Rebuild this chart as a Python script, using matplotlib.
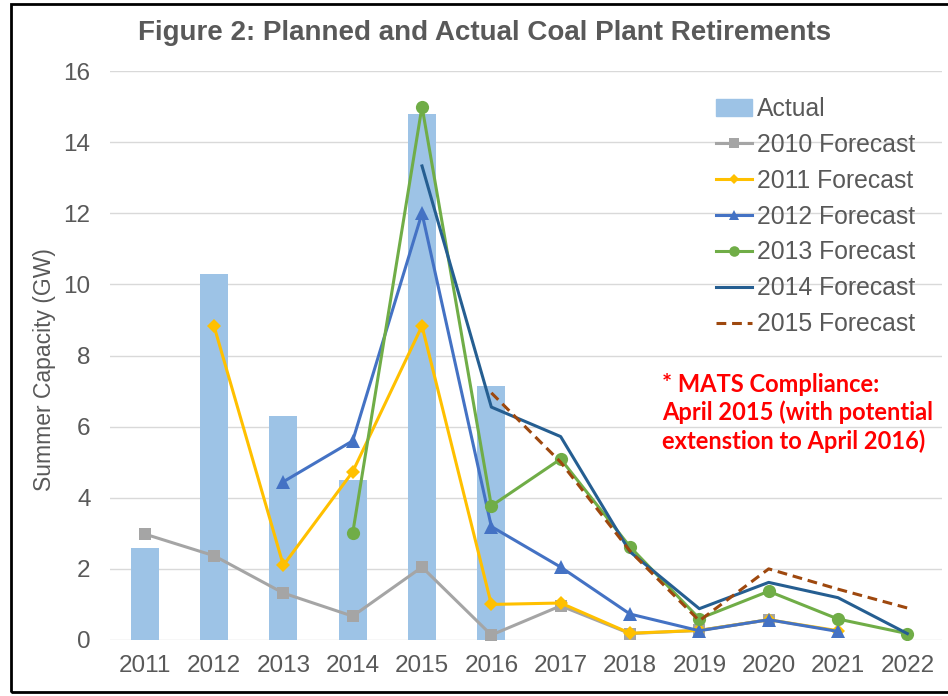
import numpy as np
import matplotlib
matplotlib.use("Agg")
import matplotlib.pyplot as plt
from matplotlib.patches import Patch, Rectangle
from matplotlib.lines import Line2D

plt.rcParams["font.family"] = ["Liberation Sans", "DejaVu Sans"]

years = ["2011", "2012", "2013", "2014", "2015", "2016",
         "2017", "2018", "2019", "2020", "2021", "2022"]
nan = np.nan

actual = [2.6, 10.3, 6.3, 4.5, 14.8, 7.15, nan, nan, nan, nan, nan, nan]
fc_2010 = [2.98, 2.37, 1.32, 0.67, 2.05, 0.14, 0.96, 0.18, 0.27, 0.57, nan, nan]
fc_2011 = [nan, 8.83, 2.1, 4.73, 8.83, 1.0, 1.04, 0.19, 0.27, 0.57, 0.26, nan]
fc_2012 = [nan, nan, 4.45, 5.6, 12.0, 3.19, 2.05, 0.73, 0.26, 0.57, 0.24, nan]
fc_2013 = [nan, nan, nan, 3.0, 15.0, 3.77, 5.09, 2.62, 0.6, 1.37, 0.59, 0.18]
fc_2014 = [nan, nan, nan, nan, 13.33, 6.55, 5.72, 2.48, 0.88, 1.62, 1.19, 0.18]
fc_2015 = [nan, nan, nan, nan, nan, 6.95, 5.0, 2.5, 0.54, 2.0, 1.43, 0.9]

text_col = "#595959"
x = np.arange(len(years))

fig = plt.figure(figsize=(9.48, 6.96), dpi=100)
ax = fig.add_axes([110 / 948, 56 / 696, 832 / 948, 569 / 696])

ax.bar(x, actual, width=0.4, color="#9DC3E6", zorder=2)

# forecast series: (values, colour, marker, marker size, style)
series = [
    (fc_2010, "#A5A5A5", "s", 8.5, "-"),
    (fc_2011, "#FFC000", "D", 7, "-"),
    (fc_2012, "#4472C4", "^", 9.5, "-"),
    (fc_2013, "#70AD47", "o", 9.5, "-"),
    (fc_2014, "#255E91", None, 0, "-"),
    (fc_2015, "#9E480E", None, 0, (0, (3.2, 1.9))),
]
for vals, col, mk, ms, ls in series:
    ax.plot(x, vals, color=col, lw=2.2, ls=ls, marker=mk, ms=ms,
            markeredgewidth=0, zorder=3)

ax.set_xlim(-0.5, len(years) - 0.5)
ax.set_ylim(0, 16)
ax.set_yticks(range(0, 17, 2))
ax.set_xticks(x)
ax.set_xticklabels(years)
ax.grid(axis="y", color="#D9D9D9", lw=1, zorder=0)
ax.set_axisbelow(True)
for s in ax.spines.values():
    s.set_visible(False)
ax.tick_params(length=0, labelsize=17.5, colors=text_col, pad=11)
ax.tick_params(axis="y", pad=14)

fig.text(45 / 948, 1 - 370 / 696, "Summer Capacity (GW)", rotation=90,
         ha="center", va="center", fontsize=16.5, color=text_col)

fig.text(485 / 948, 1 - 33 / 696,
         "Figure 2: Planned and Actual Coal Plant Retirements",
         ha="center", va="center", fontsize=20, fontweight="bold",
         color=text_col)

fig.text(662 / 948, 1 - 413 / 696,
         "* MATS Compliance:\nApril 2015 (with potential\nextenstion to April 2016)",
         ha="left", va="center", fontsize=17, fontweight="bold",
         color="#FF0000", family=["Lato", "DejaVu Sans"], linespacing=1.25)

labels = ["Actual", "2010 Forecast", "2011 Forecast", "2012 Forecast",
          "2013 Forecast", "2014 Forecast", "2015 Forecast"]
handles = [Patch(color="#9DC3E6")]
for vals, col, mk, ms, ls in series:
    handles.append(Line2D([], [], color=col, lw=2.2, ls=ls, marker=mk,
                          ms=ms * 0.8, markeredgewidth=0))
leg = fig.legend(handles, labels, loc="upper left",
                 bbox_to_anchor=(716 / 948, 1 - 97 / 696), frameon=False,
                 fontsize=17.8, handlelength=1.45, handletextpad=0.22,
                 labelspacing=0.48, borderpad=0, borderaxespad=0)
for t in leg.get_texts():
    t.set_color(text_col)

# black frame around the chart (right side cropped in the original)
fig.add_artist(Rectangle((11 / 948, 4 / 696), 1.0, 688 / 696,
                         transform=fig.transFigure, fill=False,
                         edgecolor="black", lw=2))

fig.savefig("out.png", dpi=100)
